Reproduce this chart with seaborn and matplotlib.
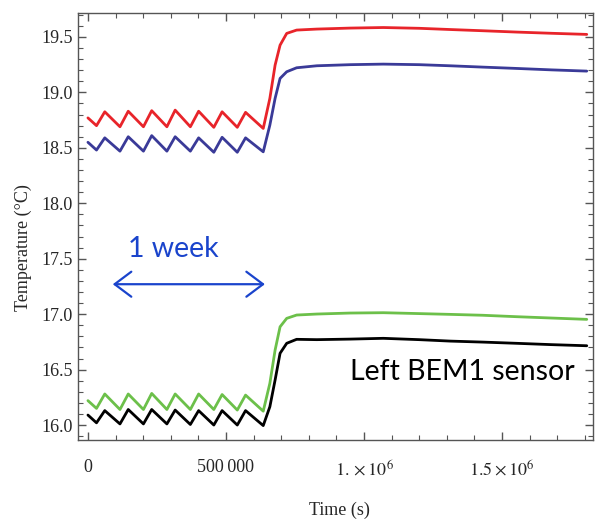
import matplotlib
matplotlib.use("Agg")
import matplotlib.pyplot as plt
import seaborn as sns
import pandas as pd
from matplotlib.ticker import MultipleLocator, FixedLocator, FixedFormatter

# ---- data ----
time_s = [0, 31000, 61000, 116000, 146000, 201000, 231000, 286000, 316000, 371000,
          401000, 456000, 486000, 541000, 571000, 635000, 659000, 678000, 696000, 720000,
          756000, 829000, 950000, 1070000, 1200000, 1312000, 1430000, 1553000, 1680000, 1807000]

red_T = [18.77, 18.70, 18.825, 18.69, 18.83, 18.69, 18.835, 18.69, 18.84, 18.69,
         18.83, 18.685, 18.825, 18.685, 18.82, 18.675, 18.946, 19.246, 19.426, 19.532,
         19.562, 19.571, 19.58, 19.585, 19.578, 19.567, 19.556, 19.544, 19.533, 19.523]
blue_T = [18.55, 18.48, 18.59, 18.47, 18.60, 18.47, 18.61, 18.47, 18.60, 18.47,
          18.59, 18.46, 18.595, 18.46, 18.59, 18.464, 18.705, 18.946, 19.126, 19.186,
          19.222, 19.240, 19.25, 19.255, 19.25, 19.24, 19.228, 19.216, 19.203, 19.192]
green_T = [16.22, 16.15, 16.28, 16.14, 16.28, 16.14, 16.285, 16.14, 16.28, 16.14,
           16.28, 16.14, 16.275, 16.135, 16.27, 16.125, 16.376, 16.676, 16.886, 16.962,
           16.992, 17.001, 17.01, 17.013, 17.005, 16.998, 16.99, 16.977, 16.965, 16.953]
black_T = [16.09, 16.02, 16.13, 16.01, 16.14, 16.01, 16.14, 16.01, 16.135, 16.005,
           16.13, 16.0, 16.13, 16.0, 16.13, 15.995, 16.165, 16.406, 16.647, 16.737,
           16.773, 16.77, 16.775, 16.782, 16.77, 16.757, 16.748, 16.737, 16.725, 16.715]

x_major = [0, 500000, 1000000, 1500000]
x_major_labels = ["0", "500\u2009000", r"$1.\times10^{6}$", r"$1.5\times10^{6}$"]
week_arrow = (90000, 641000)

# ---- styling ----
sns.set_style("ticks")
plt.rcParams["font.family"] = ["Liberation Serif", "DejaVu Serif"]
plt.rcParams["mathtext.fontset"] = "stix"

fig = plt.figure(figsize=(5.99, 5.23), dpi=100)
ax = fig.add_axes([78/599, 1-440/523, (593-78)/599, (440-13)/523])

series = [(red_T, "#e8242a"), (blue_T, "#3a3a98"), (green_T, "#6cc04a"), (black_T, "#000000")]
for vals, col in series:
    df = pd.DataFrame({"t": time_s, "T": vals})
    sns.lineplot(data=df, x="t", y="T", color=col, lw=2.0, ax=ax,
                 estimator=None, sort=False)

ax.set_xlim(-36000, 1829600)
ax.set_ylim(15.865, 19.716)

ax.xaxis.set_major_locator(FixedLocator(x_major))
ax.xaxis.set_major_formatter(FixedFormatter(x_major_labels))
ax.xaxis.set_minor_locator(MultipleLocator(100000))
ax.yaxis.set_major_locator(MultipleLocator(0.5))
ax.yaxis.set_minor_locator(MultipleLocator(0.1))
ax.yaxis.set_major_formatter(matplotlib.ticker.FormatStrFormatter("%.1f"))

ax.tick_params(which="both", direction="in", top=True, right=True, color="#555555")
ax.tick_params(which="major", length=6, width=1)
ax.tick_params(which="minor", length=3.5, width=0.8)
ax.tick_params(axis="x", which="major", labelsize=13, pad=14)
ax.tick_params(axis="y", which="major", labelsize=13, pad=4)
for sp in ax.spines.values():
    sp.set_color("#555555")
    sp.set_linewidth(1.0)

ax.set_xlabel("Time (s)", fontsize=13)
ax.set_ylabel("Temperature (\u00b0C)", fontsize=13)
ax.xaxis.set_label_coords(0.507, -0.145)
ax.yaxis.set_label_coords(-0.09, 0.45)

blue_txt = "#1a44cc"
ax.annotate("", xy=(week_arrow[1], 17.27), xytext=(week_arrow[0], 17.27),
            arrowprops=dict(arrowstyle="<->,head_length=0.6,head_width=0.45",
                            color=blue_txt, lw=1.6, mutation_scale=20,
                            shrinkA=0, shrinkB=0))
ax.text(145000, 17.515, "1 week", color=blue_txt, fontsize=20.5,
        family=["Lato", "DejaVu Sans"], va="baseline", ha="left")
ax.text(949000, 16.406, "Left BEM1 sensor", color="black", fontsize=20.5,
        family=["Lato", "DejaVu Sans"], va="baseline", ha="left")

fig.savefig("out.png", dpi=100)
